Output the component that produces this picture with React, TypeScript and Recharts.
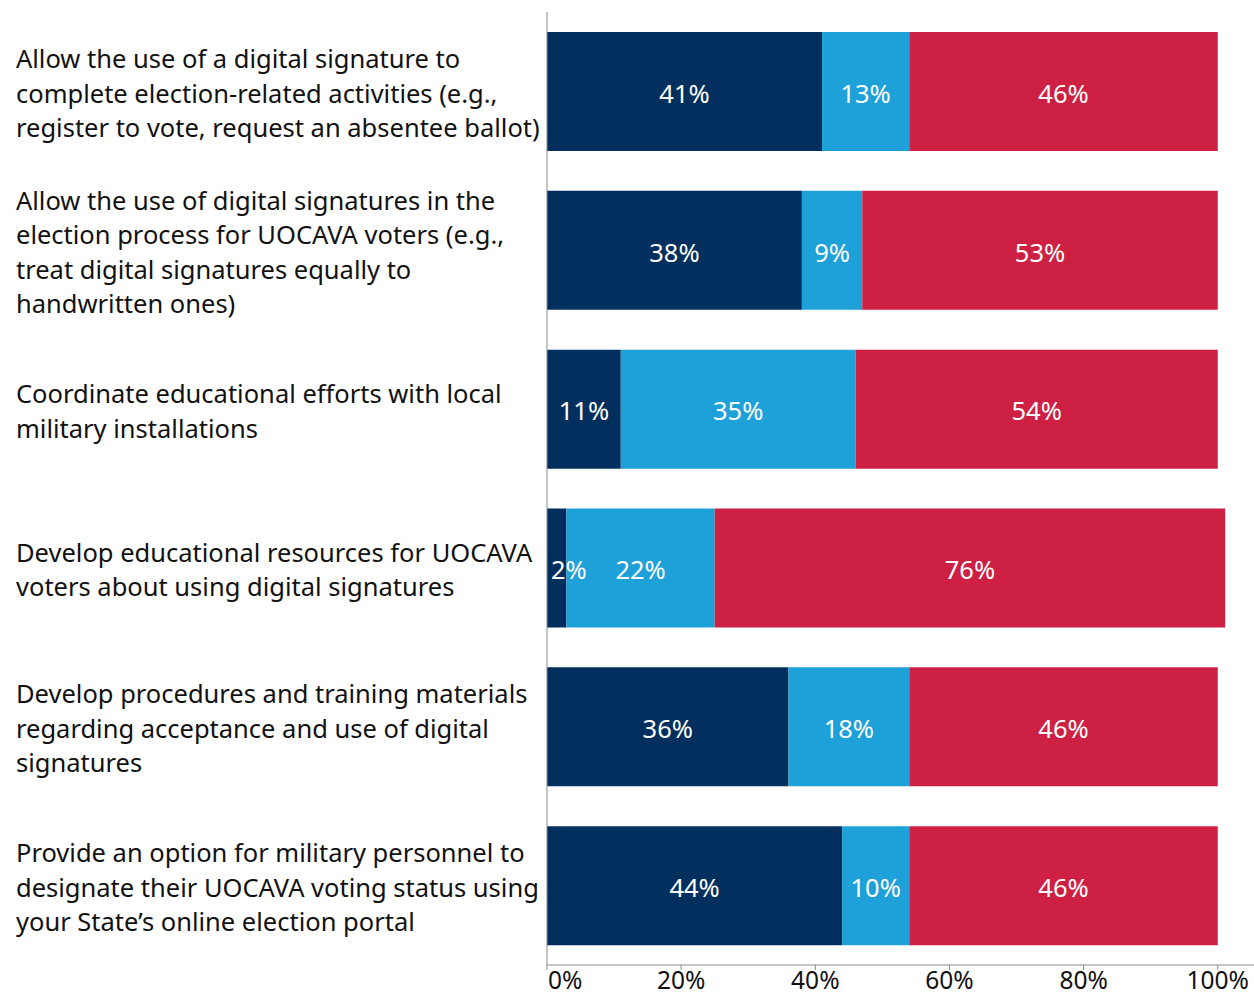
import { Bar, BarChart, LabelList, XAxis, YAxis } from "recharts";

const CATEGORIES = [
  ["Allow the use of a digital signature to", "complete election-related activities (e.g.,", "register to vote, request an absentee ballot)"],
  ["Allow the use of digital signatures in the", "election process for UOCAVA voters (e.g.,", "treat digital signatures equally to", "handwritten ones)"],
  ["Coordinate educational efforts with local", "military installations"],
  ["Develop educational resources for UOCAVA", "voters about using digital signatures"],
  ["Develop procedures and training materials", "regarding acceptance and use of digital", "signatures"],
  ["Provide an option for military personnel to", "designate their UOCAVA voting status using", "your State\u2019s online election portal"],
];

const SUPPORT = [41, 38, 11, 2.9, 36, 44];
const NEUTRAL = [13, 9, 35, 22.1, 18, 10];
const OPPOSE = [46, 53, 54, 76.1, 46, 46];

const X_TICKS = [0, 20, 40, 60, 80, 100];

const FONT = "'Noto Sans', sans-serif";
const FS = 25.5;

const data = CATEGORIES.map((lines, i) => ({
  name: lines.join(" "),
  lines,
  support: SUPPORT[i],
  neutral: NEUTRAL[i],
  oppose: OPPOSE[i],
}));

const fmt = (v: number) => `${Math.floor(v)}%`;

function CategoryTick(props: any) {
  const { y, index } = props;
  const lines = CATEGORIES[index] || [];
  const lh = 34.5;
  const start = -((lines.length - 1) * lh) / 2;
  return (
    <text x={16} y={y} fill="#111" fontSize={FS} fontFamily={FONT} textAnchor="start">
      {lines.map((l, i) => (
        <tspan key={i} x={16} y={y + start + i * lh + 1.5} dy="0.38em">
          {l}
        </tspan>
      ))}
    </text>
  );
}

function PercentTick(props: any) {
  const { x, y, payload, index } = props;
  return (
    <text
      x={index === 0 ? x + 1 : x}
      y={y - 3}
      dy="0.74em"
      fill="#111"
      fontSize={24.5}
      fontFamily={FONT}
      textAnchor={index === 0 ? "start" : "middle"}
    >
      {payload.value}%
    </text>
  );
}

// centered label; narrow segments get the label pushed to the left edge
function SegmentLabel(props: any) {
  const { x, y, width, height, value } = props;
  const small = width < 30;
  return (
    <text
      x={small ? x + 4 : x + width / 2}
      y={y + height / 2 + 1.5}
      dy="0.38em"
      fill="#fff"
      fontSize={FS}
      fontFamily={FONT}
      textAnchor={small ? "start" : "middle"}
    >
      {fmt(value)}
    </text>
  );
}

export default function App() {
  return (
    <div style={{ position: "absolute", left: 0, top: 0, background: "#fff" }}>
      <BarChart
        width={1254}
        height={998}
        data={data}
        layout="vertical"
        barSize={119}
        margin={{ top: 12, right: 0, bottom: 0, left: 0 }}
      >
        <XAxis
          type="number"
          domain={[0, 105.4]}
          ticks={X_TICKS}
          interval={0}
          tick={<PercentTick />}
          tickSize={5}
          tickMargin={4}
          height={33}
          stroke="#8a8a8a"
          tickLine={{ stroke: "#8a8a8a" }}
        />
        <YAxis
          type="category"
          dataKey="name"
          width={547}
          tick={<CategoryTick />}
          tickLine={false}
          stroke="#8a8a8a"
          interval={0}
        />
        <Bar dataKey="support" stackId="a" fill="#032f5e" isAnimationActive={false}>
          <LabelList dataKey="support" content={<SegmentLabel />} />
        </Bar>
        <Bar dataKey="neutral" stackId="a" fill="#1ea1d8" isAnimationActive={false}>
          <LabelList dataKey="neutral" content={<SegmentLabel />} />
        </Bar>
        <Bar dataKey="oppose" stackId="a" fill="#cd2043" isAnimationActive={false}>
          <LabelList dataKey="oppose" content={<SegmentLabel />} />
        </Bar>
      </BarChart>
    </div>
  );
}
